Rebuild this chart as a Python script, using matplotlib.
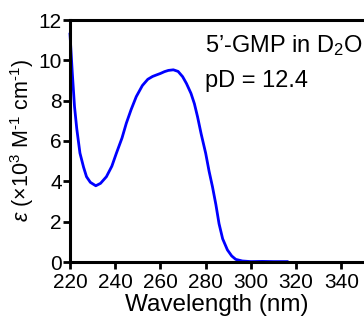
import numpy as np
import matplotlib.pyplot as plt

plt.rcParams['font.family'] = ['Liberation Sans', 'DejaVu Sans']
plt.rcParams['mathtext.fontset'] = 'custom'
plt.rcParams['mathtext.rm'] = 'Liberation Sans'
plt.rcParams['mathtext.it'] = 'Liberation Sans:italic'

# wavelength (nm) and extinction (x10^3 M^-1 cm^-1)
wavelength = [220, 221, 222, 223, 224.4, 226, 227.3, 229, 231.4, 233.5, 236.1, 238.5,
              240.5, 243, 244.9, 247, 249.3, 252, 254.4, 256.5, 258.1, 260, 261.8,
              263.5, 265.7, 267.8, 269.8, 271.5, 273.5, 275, 276.4, 278, 280, 281.5,
              283, 284.5, 285.9, 287.5, 289.6, 291.5, 293.3, 296.2, 300, 305, 310, 316]
epsilon = [11.3, 9.4, 7.7, 6.6, 5.4, 4.7, 4.23, 3.95, 3.78, 3.9, 4.23, 4.75,
           5.39, 6.15, 6.88, 7.55, 8.2, 8.75, 9.06, 9.2, 9.27, 9.35, 9.44,
           9.5, 9.53, 9.45, 9.19, 8.85, 8.36, 7.85, 7.2, 6.35, 5.39, 4.5,
           3.73, 2.85, 1.9, 1.15, 0.6, 0.3, 0.13, 0.05, 0.02, 0.03, 0.02, 0.02]

xticks = [220, 240, 260, 280, 300, 320, 340]
yticks = [0, 2, 4, 6, 8, 10, 12]

fig = plt.figure(figsize=(3.64, 3.2), dpi=100)
ax = fig.add_axes([70/364, 1-262/320, 294/364, 242/320])
ax.plot(wavelength, epsilon, color='#0000ff', lw=2.0, clip_on=False)

ax.set_xlim(220, 350)
ax.set_ylim(0, 12)
ax.set_xticks(xticks)
ax.set_yticks(yticks)
ax.tick_params(direction='out', length=5, width=2, labelsize=15)
ax.tick_params(axis='x', pad=3)
ax.tick_params(axis='y', pad=1)
for s in ['left', 'bottom', 'top']:
    ax.spines[s].set_linewidth(2.2)
ax.spines['right'].set_visible(False)

ax.set_xlabel('Wavelength (nm)', fontsize=17.5, labelpad=1)
ax.set_ylabel(r'$\mathit{\varepsilon}$ (×10$^3$ M$^{\text{-}1}$ cm$^{\text{-}1}$)',
              fontsize=15.5, labelpad=2)

ax.text(205/364, 1-52/320, '5’-GMP in D$_2$O', transform=fig.transFigure, fontsize=17)
ax.text(205/364, 1-87/320, 'pD = 12.4', transform=fig.transFigure, fontsize=17)

fig.savefig('out.png', dpi=100)
